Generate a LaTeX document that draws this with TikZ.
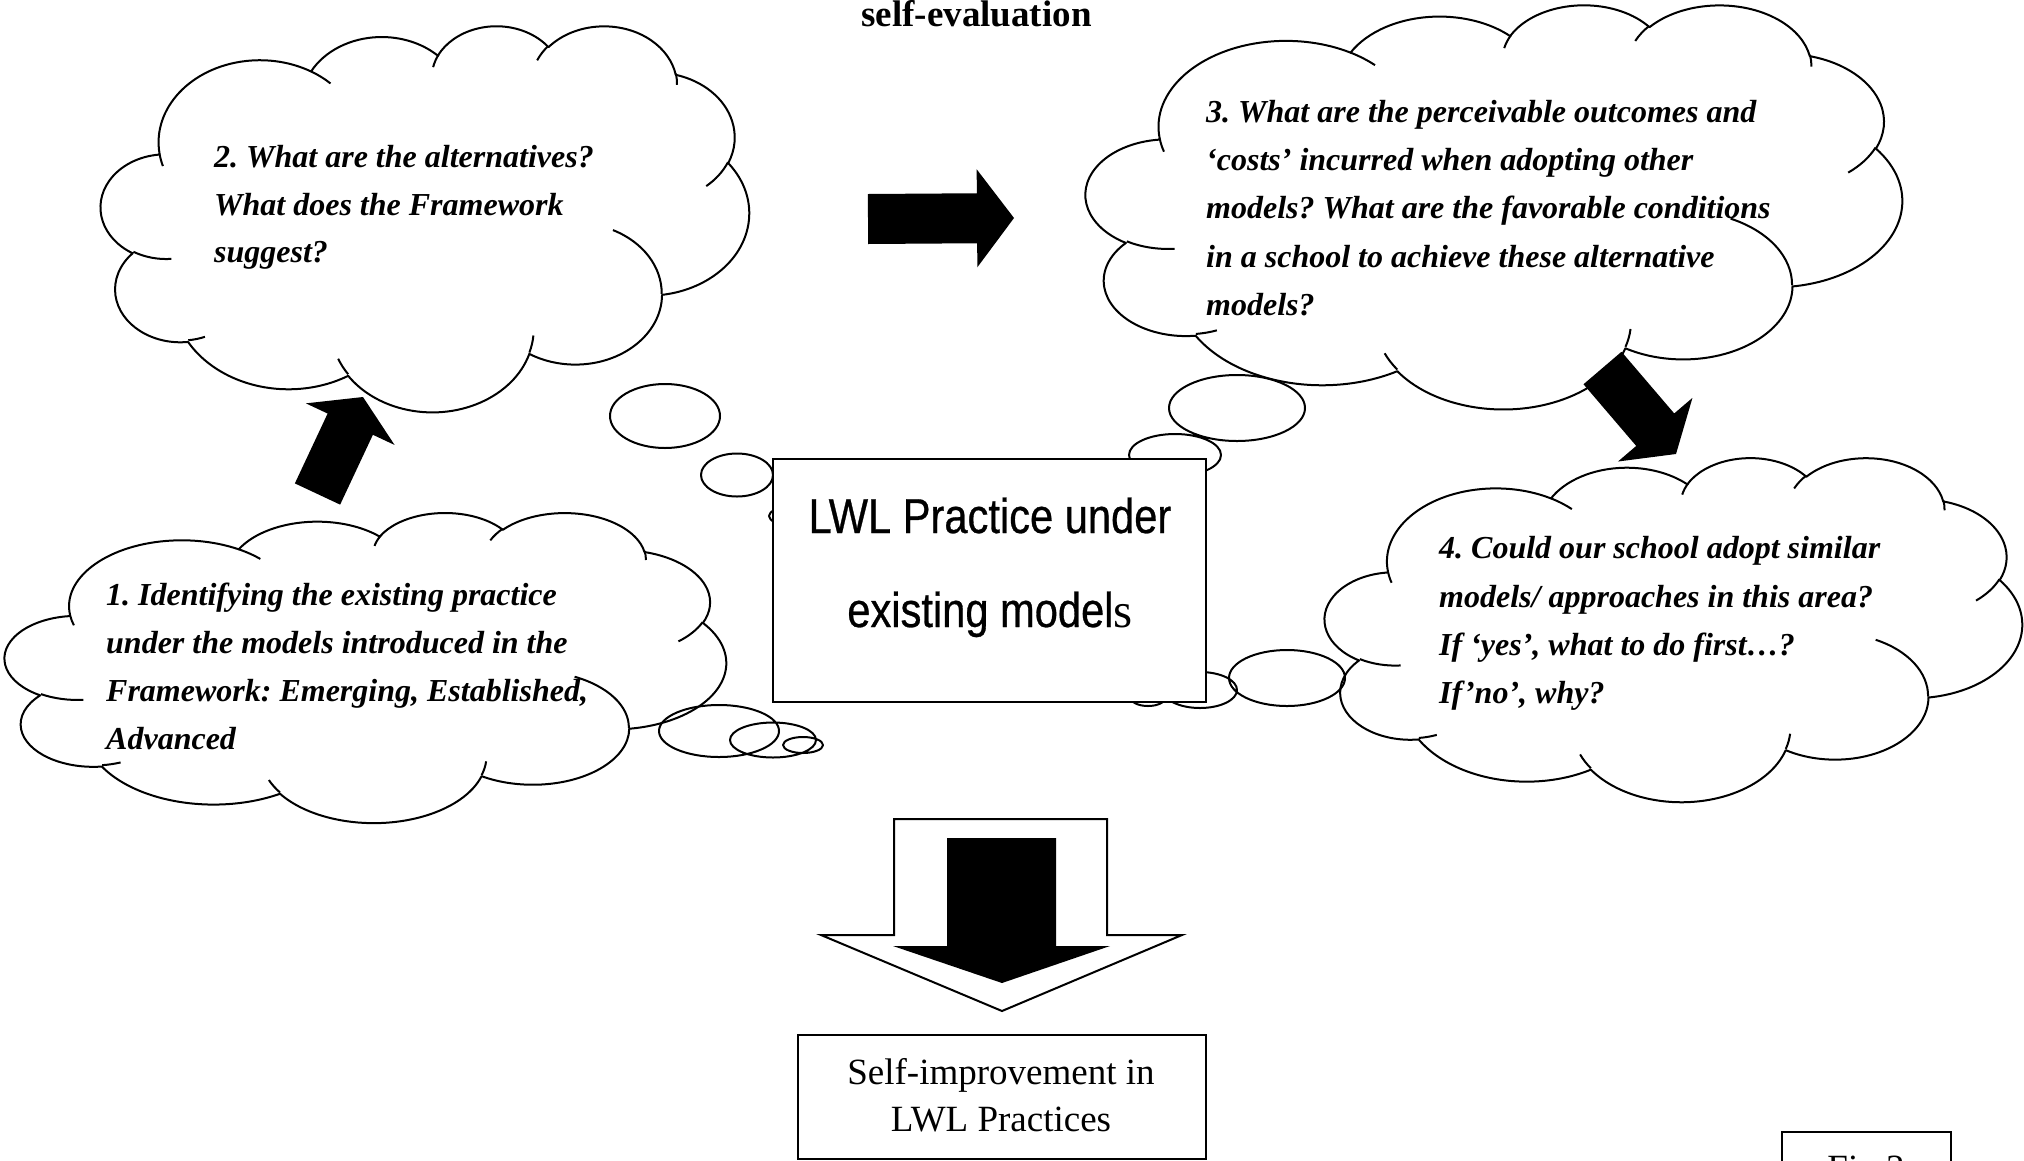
\documentclass[tikz,border=0pt]{standalone}
\usepackage{fontspec}
\setmainfont{Liberation Serif}
\newfontfamily\arialf[FakeStretch=0.85,FakeBold=0.6]{Liberation Sans}
\usetikzlibrary{calc}
\frenchspacing
\makeatletter
\newcommand\cvtarc[5]{%
  \pgfmathsetmacro\cv@s{atan2((#2)*sin(#4),(#3)*cos(#4))}%
  \pgfmathsetmacro\cv@e{atan2((#2)*sin((#4)+(#5)),(#3)*cos((#4)+(#5)))}%
  \pgfmathsetmacro\cv@d{\cv@e-\cv@s}%
  \pgfmathsetmacro\cv@d{\cv@d+360*(\cv@d<0)}%
  \expandafter\xdef\csname arcs#1\endcsname{\cv@s}%
  \expandafter\xdef\csname arcd#1\endcsname{\cv@d}%
}
\makeatother
\cvtarc{A}{156.32}{212.73}{-190.4875}{123.7805}
\cvtarc{B}{123.45}{168.22}{-144.1024}{89.9452}
\cvtarc{C}{101.04}{137.62}{-145.8079}{99.7230}
\cvtarc{D}{112.43}{152.66}{-130.9861}{117.2417}
\cvtarc{E}{123.45}{168.36}{-78.7089}{109.0269}
\cvtarc{F}{156.83}{213.43}{-46.2673}{130.2690}
\cvtarc{G}{133.91}{182.11}{0.6250}{114.0333}
\cvtarc{H}{156.30}{213.31}{22.4516}{115.1726}
\cvtarc{I}{178.70}{244.05}{66.2426}{75.7110}
\cvtarc{J}{100.93}{136.99}{-274.9421}{146.7356}
\cvtarc{K}{100.58}{137.62}{-246.8285}{152.5189}
\cvtarc{a}{100.58}{137.62}{86.7420}{26.4295}
\cvtarc{b}{100.93}{136.99}{73.6105}{11.4475}
\cvtarc{c}{156.30}{213.31}{137.6242}{14.0811}
\cvtarc{d}{156.30}{213.31}{6.4533}{15.9984}
\cvtarc{e}{133.91}{182.11}{-70.2924}{70.9174}
\cvtarc{f}{123.45}{168.36}{30.3180}{27.7515}
\cvtarc{g}{112.43}{152.66}{-13.7443}{14.8589}
\cvtarc{h}{112.43}{152.66}{-149.1815}{18.1954}
\cvtarc{i}{101.04}{137.62}{-163.4943}{17.6864}
\cvtarc{j}{156.32}{212.73}{-66.7070}{12.3194}
\cvtarc{k}{156.32}{212.73}{157.6544}{11.8582}
\tikzset{
  cloudline/.style={line width=2pt, line join=round},
  cloudoutline/.style={insert path={(90.28,332.64)
    arc[start angle=\arcsA, delta angle=\arcdA, x radius=156.32, y radius=212.73]
    arc[start angle=\arcsB, delta angle=\arcdB, x radius=123.45, y radius=168.22]
    arc[start angle=\arcsC, delta angle=\arcdC, x radius=101.04, y radius=137.62]
    arc[start angle=\arcsD, delta angle=\arcdD, x radius=112.43, y radius=152.66]
    arc[start angle=\arcsE, delta angle=\arcdE, x radius=123.45, y radius=168.36]
    arc[start angle=\arcsF, delta angle=\arcdF, x radius=156.83, y radius=213.43]
    arc[start angle=\arcsG, delta angle=\arcdG, x radius=133.91, y radius=182.11]
    arc[start angle=\arcsH, delta angle=\arcdH, x radius=156.30, y radius=213.31]
    arc[start angle=\arcsI, delta angle=\arcdI, x radius=178.70, y radius=244.05]
    arc[start angle=\arcsJ, delta angle=\arcdJ, x radius=100.93, y radius=136.99]
    arc[start angle=\arcsK, delta angle=\arcdK, x radius=100.58, y radius=137.62] -- cycle}},
  cloudinner/.style={insert path={
    (108.63,605.95) arc[start angle=\arcsa, delta angle=\arcda, x radius=100.58, y radius=137.62]
    (160.37,807.85) arc[start angle=\arcsb, delta angle=\arcdb, x radius=100.93, y radius=136.99]
    (381.44,904.86) arc[start angle=\arcsc, delta angle=\arcdc, x radius=156.30, y radius=213.31]
    (667.29,804.42) arc[start angle=\arcsd, delta angle=\arcdd, x radius=156.30, y radius=213.31]
    (790.02,531.34) arc[start angle=\arcse, delta angle=\arcde, x radius=133.91, y radius=182.11]
    (967.55,355.42) arc[start angle=\arcsf, delta angle=\arcdf, x radius=123.45, y radius=168.36]
    (887.13,125.60) arc[start angle=\arcsg, delta angle=\arcdg, x radius=112.43, y radius=152.66]
    (673.10,91.48) arc[start angle=\arcsh, delta angle=\arcdh, x radius=112.43, y radius=152.66]
    (512.52,109.26) arc[start angle=\arcsi, delta angle=\arcdi, x radius=101.04, y radius=137.62]
    (324.07,120.19) arc[start angle=\arcsj, delta angle=\arcdj, x radius=156.32, y radius=212.73]
    (95.53,365.49) arc[start angle=\arcsk, delta angle=\arcdk, x radius=156.32, y radius=212.73]}},
  ctext/.style={anchor=base west, inner sep=0pt, font=\fontsize{32}{38}\selectfont\bfseries\itshape},
  rtext/.style={anchor=base, inner sep=0pt, font=\fontsize{37}{44}\selectfont},
  ltext/.style={anchor=base, inner sep=0pt, font=\arialf\fontsize{49}{56}\selectfont},
  boxline/.style={draw=black, line width=2.2pt, fill=white, inner sep=0pt}
}
\newcommand\cloudat[5]{% name, x0, y0, W, H
  \begin{scope}[shift={(#2,#3)}, xscale=#4/1000, yscale=#5/1000]
    \draw[cloudline, cloudoutline];
    \draw[cloudline, cloudinner];
    \coordinate (#1) at (500,500);
  \end{scope}}
\newcommand\blockarrow[3]{%
  \coordinate (bh) at ($(#2)!#3!(#1)$);
  \fill[black] ($(#1)!25pt!90:(#2)$) -- ($(bh)!25pt!90:(#2)$) -- ($(bh)!49pt!90:(#2)$) -- (#2)
    -- ($(bh)!49pt!-90:(#2)$) -- ($(bh)!25pt!-90:(#2)$) -- ($(#1)!25pt!-90:(#2)$) -- cycle;}
\begin{document}
\begin{tikzpicture}[x=1pt, y=-1pt]
\useasboundingbox (0,0) rectangle (2024,1160);
% title
\node[rtext, font=\fontsize{37}{44}\selectfont\bfseries] (title) at (976.5,26) {self-evaluation};

% ---- cloud 2 (top left)
\begin{scope}[shift={(101,25)}, xscale=0.648, yscale=0.386]
  \fill[white, cloudoutline];
\end{scope}
\fill[white] (665,416) ellipse[x radius=55, y radius=32] (737,475) ellipse[x radius=36, y radius=21.5]
  (790,516) ellipse[x radius=21, y radius=9];
\cloudat{c2}{101}{25}{648}{386}
\draw[cloudline] (665,416) ellipse[x radius=55, y radius=32] (737,475) ellipse[x radius=36, y radius=21.5]
  (790,516) ellipse[x radius=21, y radius=9];

% ---- cloud 3 (top right)
\begin{scope}[shift={(1086,4)}, xscale=0.816, yscale=0.404]
  \fill[white, cloudoutline];
\end{scope}
\fill[white] (1237,408) ellipse[x radius=68, y radius=33] (1175,455) ellipse[x radius=46, y radius=21];
\cloudat{c3}{1086}{4}{816}{404}
\draw[cloudline] (1237,408) ellipse[x radius=68, y radius=33] (1175,455) ellipse[x radius=46, y radius=21];

% ---- cloud 1 (bottom left)
\begin{scope}[shift={(5,512)}, xscale=0.721, yscale=0.310]
  \fill[white, cloudoutline];
\end{scope}
\fill[white] (719,731) ellipse[x radius=60, y radius=26] (773,740) ellipse[x radius=43, y radius=17.5]
  (803,745) ellipse[x radius=20, y radius=8];
\cloudat{c1}{5}{512}{721}{310}
\draw[cloudline] (719,731) ellipse[x radius=60, y radius=26] (773,740) ellipse[x radius=43, y radius=17.5]
  (803,745) ellipse[x radius=20, y radius=8];

% ---- cloud 4 (right)
\begin{scope}[shift={(1325,457)}, xscale=0.697, yscale=0.344]
  \fill[white, cloudoutline];
\end{scope}
\fill[white] (1287,678) ellipse[x radius=58, y radius=28] (1200,690) ellipse[x radius=37, y radius=18]
  (1148,698) ellipse[x radius=17, y radius=8];
\cloudat{c4}{1325}{457}{697}{344}
\draw[cloudline] (1287,678) ellipse[x radius=58, y radius=28] (1200,690) ellipse[x radius=37, y radius=18]
  (1148,698) ellipse[x radius=17, y radius=8];

% ---- cloud texts
\node[ctext] (t2a) at (214,167) {2. What are the alternatives?};
\node[ctext] (t2b) at (214,215) {What does the Framework};
\node[ctext] (t2c) at (214,262) {suggest?};

\node[ctext] (t3a) at (1206,122) {3. What are the perceivable outcomes and};
\node[ctext] (t3b) at (1206,170) {‘costs’ incurred when adopting other};
\node[ctext] (t3c) at (1206,218) {models? What are the favorable conditions};
\node[ctext] (t3d) at (1206,267) {in a school to achieve these alternative};
\node[ctext] (t3e) at (1206,315) {models?};

\node[ctext] (t1a) at (106,605) {1. Identifying the existing practice};
\node[ctext] (t1b) at (106,653) {under the models introduced in the};
\node[ctext] (t1c) at (106,701) {Framework: Emerging, Established,};
\node[ctext] (t1d) at (106,749) {Advanced};

\node[ctext] (t4a) at (1439,558) {4. Could our school adopt similar};
\node[ctext] (t4b) at (1439,607) {models/ approaches in this area?};
\node[ctext] (t4c) at (1439,655) {If ‘yes’, what to do first…?};
\node[ctext] (t4d) at (1439,703) {If’no’, why?};

% ---- centre box
\node[boxline, minimum width=433pt, minimum height=243pt] (centre) at (989.5,580.5) {};
\node[ltext] (ca) at (990,533) {LWL Practice under};
\node[ltext] (cb) at (990,627) {existing model{\rmfamily s}};

% ---- block arrows between clouds
\coordinate (a1s) at (317.5,494);
\coordinate (a1e) at (363,397);
\blockarrow{a1s}{a1e}{30pt}
\coordinate (a2s) at (868,219);
\coordinate (a2e) at (1014,218);
\blockarrow{a2s}{a2e}{37pt}
\coordinate (a3s) at (1602.5,368);
\coordinate (a3e) at (1676,454);
\blockarrow{a3s}{a3e}{32pt}

% ---- bottom arrow
\draw[line width=2pt, fill=white, line join=miter] (894,819) -- (1107,819) -- (1107,935) -- (1182,935)
  -- (1002,1011) -- (821,935) -- (894,935) -- cycle;
\fill[black] (947,838) -- (1056,838) -- (1056,946) -- (1110,946) -- (1002,983) -- (893,946) -- (947,946) -- cycle;

% ---- result box
\node[boxline, minimum width=408pt, minimum height=124pt] (result) at (1002,1097) {};
\node[rtext] (ra) at (1001,1084) {Self-improvement in};
\node[rtext] (rb) at (1001,1131) {LWL Practices};

% ---- figure label box (cut by page edge, as in the reference)
\node[boxline, anchor=north west, minimum width=169pt, minimum height=70pt] (figbox) at (1781,1131) {};
\node[rtext] (fig) at (1866,1180) {Fig 3};
\end{tikzpicture}
\end{document}
